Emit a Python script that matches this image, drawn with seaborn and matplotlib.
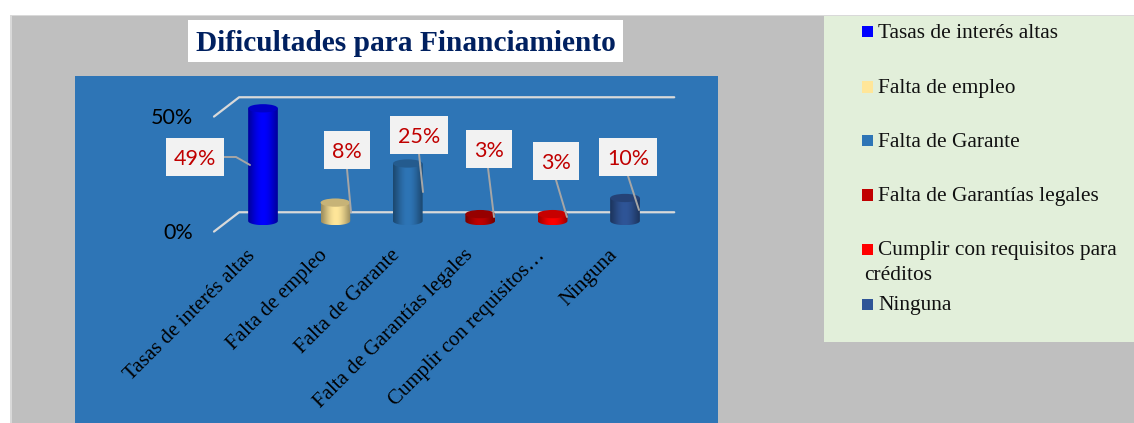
import numpy as np
import pandas as pd
import matplotlib
matplotlib.use("Agg")
import matplotlib.pyplot as plt
import matplotlib.colors as mcolors
from matplotlib.patches import Rectangle, Ellipse, PathPatch
from matplotlib.path import Path
from matplotlib.transforms import ScaledTranslation
import seaborn as sns

title = "Dificultades para Financiamiento"
tick_names = ["Tasas de interés altas", "Falta de empleo", "Falta de Garante",
              "Falta de Garantías legales", "Cumplir con requisitos…", "Ninguna"]
legend_names = ["Tasas de interés altas", "Falta de empleo", "Falta de Garante",
                "Falta de Garantías legales", "Cumplir con requisitos para\ncréditos", "Ninguna"]
values = [49, 8, 25, 3, 3, 10]
y_ticks = [0, 50]
colors = ["#0000ff", "#ffe699", "#2e75b6", "#c00000", "#ff0000", "#2f5597"]
legend_colors = ["#0000ff", "#ffe699", "#2e75b6", "#c00000", "#ff0000", "#2f5597"]

W, H = 1134, 423
PANEL = "#2e75b6"
SERIF = "Liberation Serif"
SANS = "Lato"

sns.set_theme(style="white")
plt.rcParams["font.family"] = [SERIF, "DejaVu Sans"]


def fx(x):
    return x / W


def fy(y):
    return 1 - y / H


fig = plt.figure(figsize=(W / 100, H / 100), dpi=100, facecolor="white")

# page background and legend panel
fig.patches.append(Rectangle((fx(10), 0), fx(W - 10), fy(15), transform=fig.transFigure,
                             facecolor="#bfbfbf", edgecolor="none", zorder=-5))
fig.patches.append(Rectangle((fx(10), 0), fx(2), fy(15), transform=fig.transFigure,
                             facecolor="#d9d9d9", edgecolor="none", zorder=-4))
fig.patches.append(Rectangle((fx(10), fy(16)), fx(W - 10), 1 / H, transform=fig.transFigure,
                             facecolor="#d9d9d9", edgecolor="none", zorder=-4))
fig.patches.append(Rectangle((fx(824), fy(342)), fx(W - 824), 326 / H, transform=fig.transFigure,
                             facecolor="#e2efda", edgecolor="none", zorder=-3))
fig.patches.append(Rectangle((fx(188), fy(62)), fx(435), 42 / H, transform=fig.transFigure,
                             facecolor="white", edgecolor="none", zorder=-3))
fig.text(fx(405.5), fy(43.5), title, ha="center", va="center", family=SERIF,
         fontweight="bold", fontsize=21.2, color="#002060")

# main plot, filling the blue panel
ax = fig.add_axes([fx(75), 0, fx(643), fy(76)])
ax.set_facecolor(PANEL)

df = pd.DataFrame({"name": tick_names, "value": values})
sns.barplot(data=df, x="name", y="value", hue="name", order=tick_names, hue_order=tick_names,
            palette=colors, width=0.41, dodge=False, legend=False, ax=ax, zorder=3)

px_per_unit = 2.3
base_px = 221
xlim = ((75 - 263) / 72.4, (718 - 263) / 72.4)
ylim = ((base_px - 423) / px_per_unit, (base_px - 76) / px_per_unit)

# back wall lines with the short diagonal to the front
for v in y_ticks:
    ax.plot([-0.677, -0.33, 5.68], [v - 4.6, v + 3.8, v + 3.8], color="#d9d9d9", lw=1.6, zorder=1,
            solid_capstyle="round")


def shade(color, k):
    r, g, b = mcolors.to_rgb(color)
    return (r * k, g * k, b * k)


# cylinders: bar patch gets a shaded body and two ellipses
rise = 3.6
for bar, color in zip(ax.patches, colors):
    x0, w, h = bar.get_x(), bar.get_width(), bar.get_height()
    t = np.linspace(-1, 1, 40)
    k = 0.62 + 0.38 * np.cos(t * np.pi / 2) ** 1.2
    img = np.array([[shade(color, i) for i in k]])
    im = ax.imshow(img, extent=(x0, x0 + w, 0 - rise / 2, h), aspect="auto", zorder=4,
                   interpolation="bilinear")
    theta = np.linspace(np.pi, 2 * np.pi, 30)
    xs = x0 + w / 2 + w / 2 * np.cos(theta)
    ys = rise / 2 * np.sin(theta)
    verts = list(zip(xs, ys)) + [(x0 + w, h), (x0, h), (xs[0], ys[0])]
    clip = PathPatch(Path(verts), transform=ax.transData, facecolor="none", edgecolor="none")
    im.set_clip_path(clip)
    bar.set_visible(False)
    ax.add_patch(Ellipse((x0 + w / 2, h), w, rise, facecolor=shade(color, 0.78),
                         edgecolor="none", zorder=5))

ax.set_xlim(*xlim)
ax.set_ylim(*ylim)
ax.set_xlabel("")
ax.set_ylabel("")

for s in ["top", "right"]:
    ax.spines[s].set_visible(False)
ax.spines["bottom"].set_position(("data", 0))
ax.spines["left"].set_position(("data", (200 - 263) / 72.4))
ax.spines["bottom"].set_visible(False)
ax.spines["left"].set_visible(False)

ax.set_xticks(range(len(tick_names)))
ax.set_xticklabels(tick_names, rotation=45, ha="right", rotation_mode="anchor",
                   family=SERIF, fontsize=15, color="black")
ax.set_yticks(y_ticks)
ax.set_yticklabels([f"{v}%" for v in y_ticks], family=SANS, fontsize=15.5, color="black")
ax.tick_params(axis="x", length=0, pad=18)
ax.tick_params(axis="y", length=0, pad=5)
off_y = ScaledTranslation(0, -10 / 100, fig.dpi_scale_trans)
for lab in ax.get_yticklabels():
    lab.set_transform(lab.get_transform() + off_y)
off_x = ScaledTranslation(-17 / 100, 0, fig.dpi_scale_trans)
for lab in ax.get_xticklabels():
    lab.set_transform(lab.get_transform() + off_x)

# data label boxes and leader lines, in pixel positions
boxes = [(166, 138, 58), (324, 131, 46), (390, 116, 58), (466, 130, 46), (533, 142, 46), (599, 138, 58)]
leaders = [[(224, 157), (236, 157), (250, 165)], [(347, 169), (351, 212)], [(419, 154), (423, 192)],
           [(488, 168), (494, 217)], [(556, 180), (567, 217)], [(628, 176), (639, 210)]]
for v, (bx, by, bw), pts in zip(values, boxes, leaders):
    fig.add_artist(plt.Line2D([fx(p[0]) for p in pts], [fy(p[1]) for p in pts], color="#a6a6a6", lw=1.4, zorder=6))
    fig.add_artist(Rectangle((fx(bx), fy(by + 38)), fx(bw), 38 / H, transform=fig.transFigure,
                             facecolor="#f2f2f2", edgecolor="none", zorder=7))
    fig.text(fx(bx + bw / 2), fy(by + 21), f"{v}%", ha="center", va="center", family=SANS,
             fontsize=15.5, color="#c00000", zorder=8)

# legend, spaced by hand because of the wrapped entry
legend_y = [32, 87, 141, 195, 249, 304]
for name, color, y in zip(legend_names, legend_colors, legend_y):
    fig.add_artist(Rectangle((fx(862), fy(y + 5.5)), fx(11), 11 / H, transform=fig.transFigure,
                             facecolor=color, edgecolor="none", zorder=7))
    first, *rest = name.split("\n")
    fig.text(fx(878), fy(y + 1.5), first, ha="left", va="center", family=SERIF, fontsize=15.4, color="#111111")
    if rest:
        fig.text(fx(864), fy(y + 26.5), rest[0], ha="left", va="center", family=SERIF, fontsize=15.4, color="#111111")

fig.savefig("out.png", dpi=100, facecolor=fig.get_facecolor())
